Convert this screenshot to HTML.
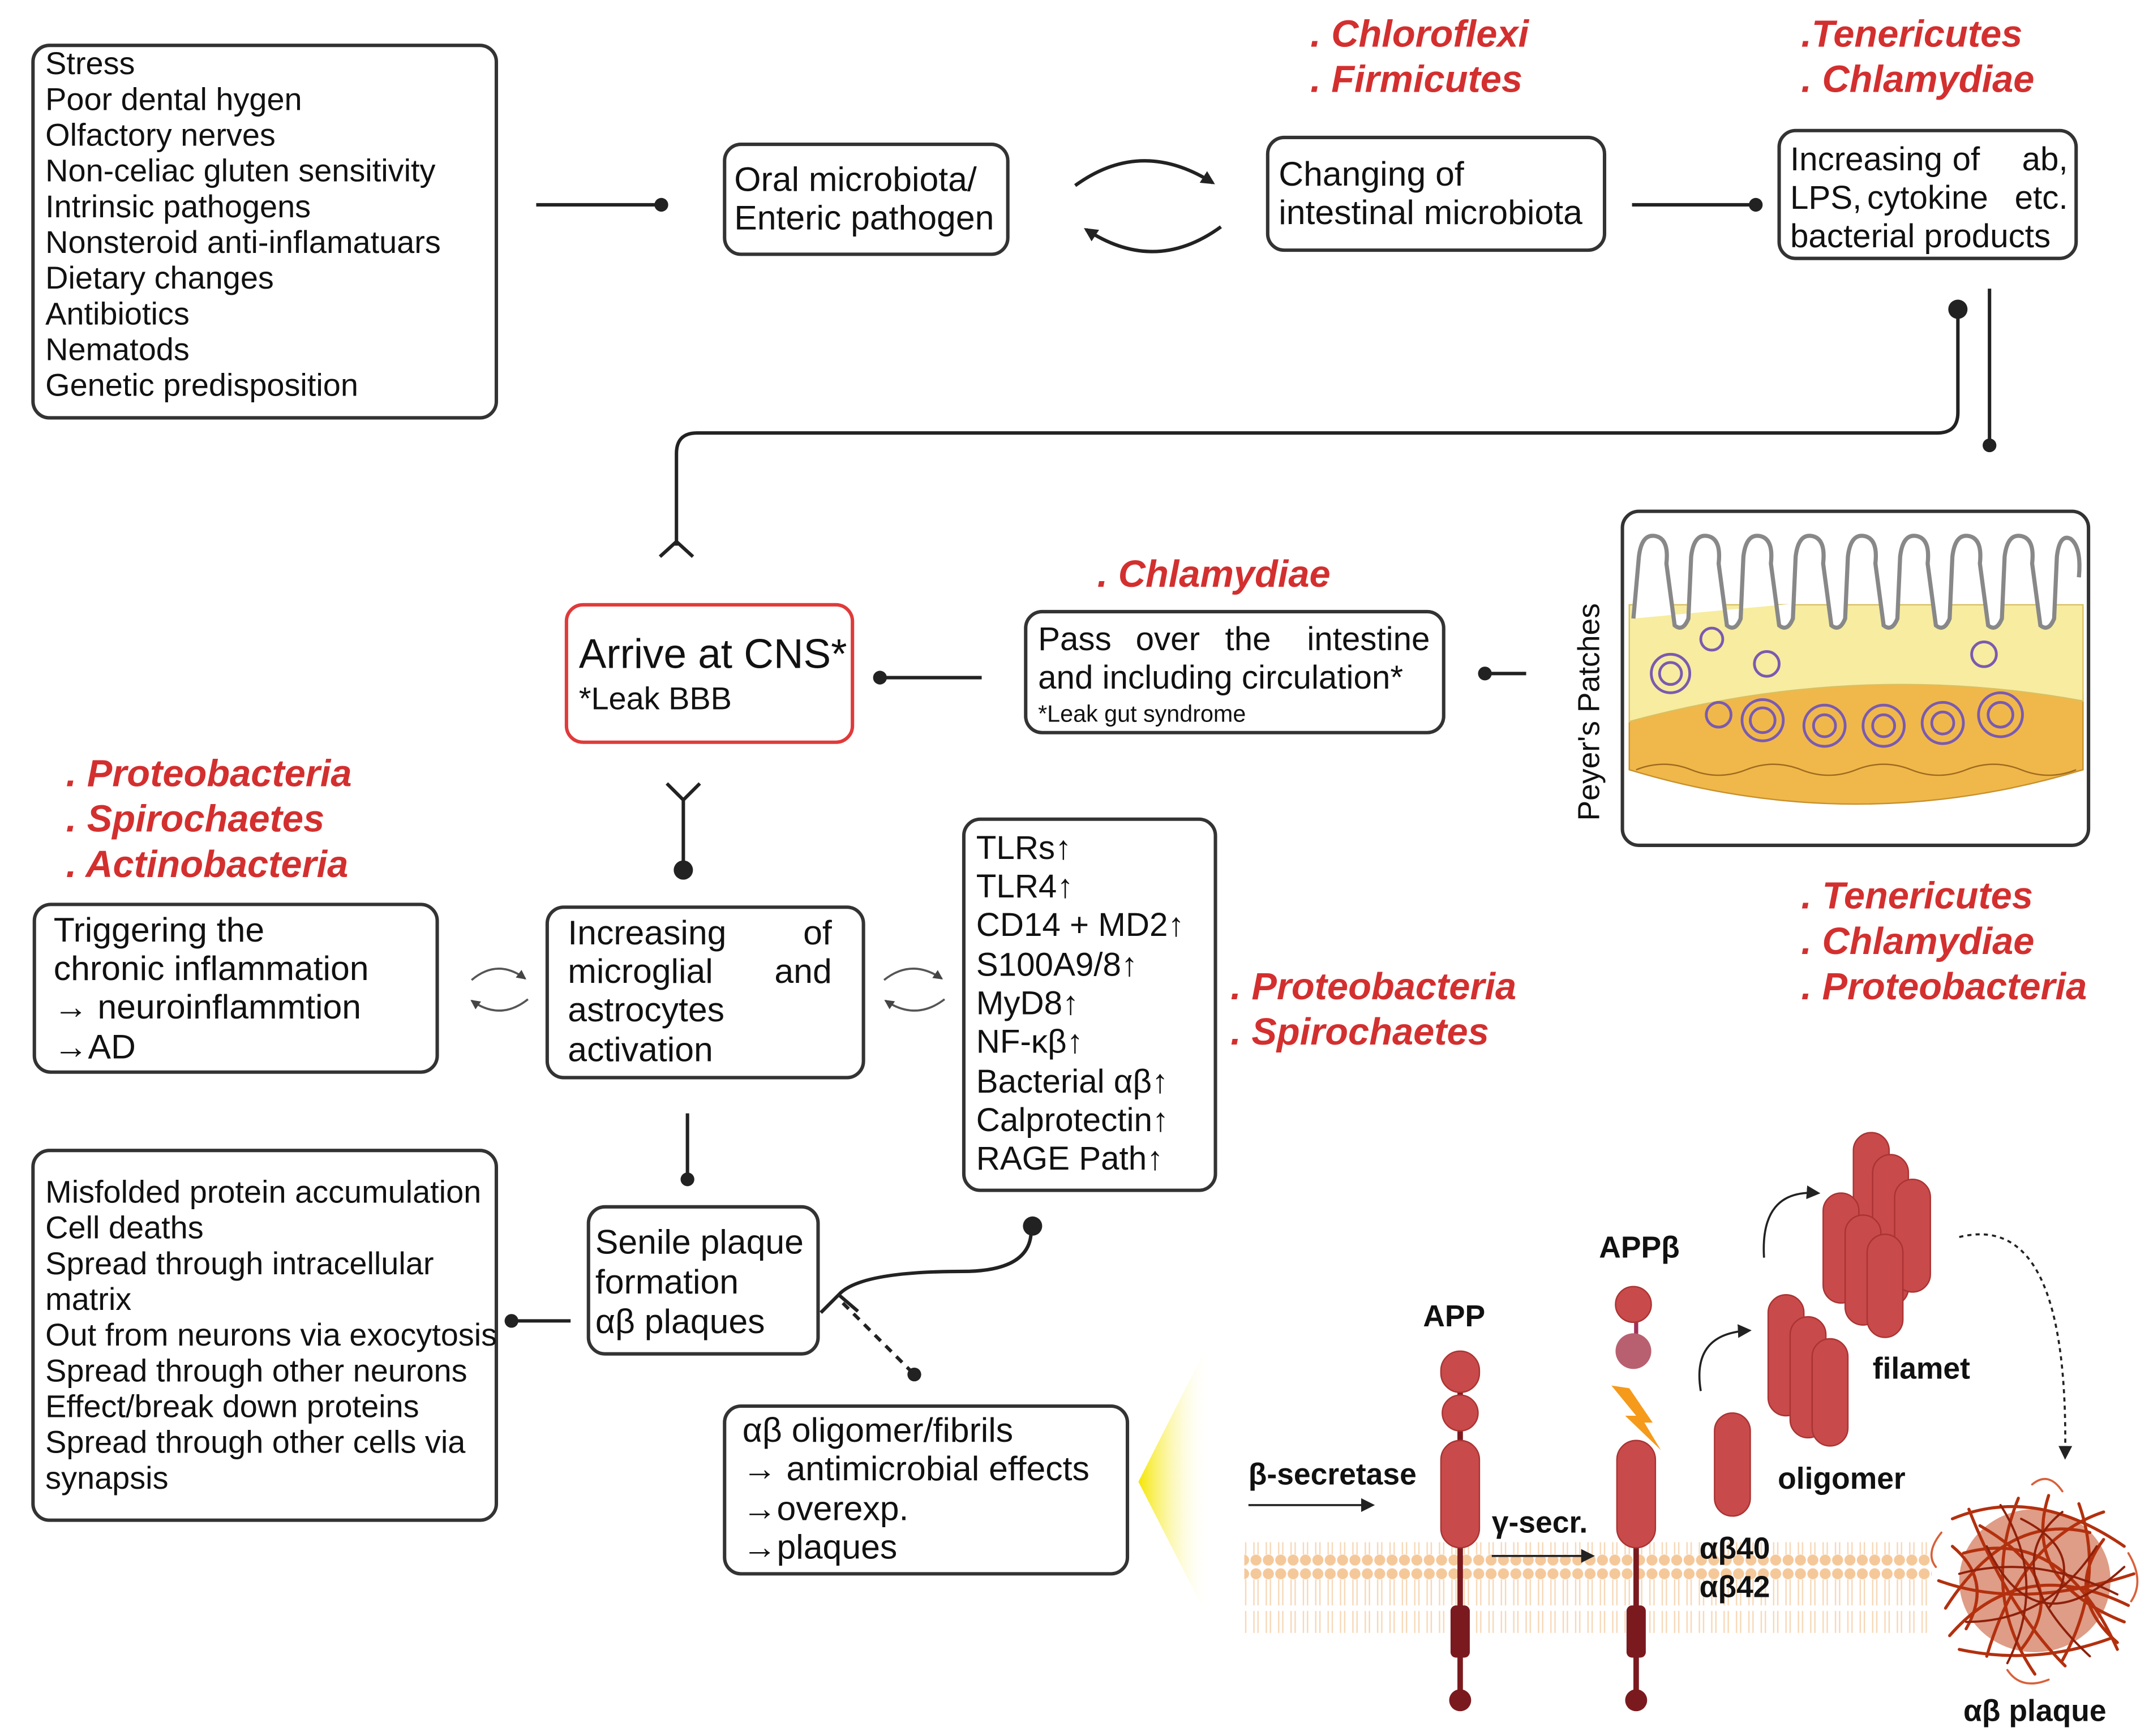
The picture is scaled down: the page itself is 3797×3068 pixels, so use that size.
<!DOCTYPE html>
<html><head><meta charset="utf-8"><style>
html,body{margin:0;padding:0;background:#fff;}
svg{display:block;}
text{font-family:"Liberation Sans",sans-serif;}
.t{font-size:23px;fill:#111;}
.m{font-size:24px;fill:#111;}
.r{font-size:27.5px;fill:#d32f2f;font-weight:bold;font-style:italic;}
.b{fill:#fff;stroke:#333;stroke-width:2.5;}
.ln{stroke:#222;stroke-width:2.5;fill:none;}
.ca{stroke:#555;stroke-width:1.5;fill:none;}
.bd{font-weight:bold;font-size:22px;fill:#111;}
.cr{fill:#c94a4a;stroke:#a33;stroke-width:1;}
</style></head><body>
<svg width="3797" height="3068" viewBox="0 0 1563 1263" preserveAspectRatio="none" xmlns="http://www.w3.org/2000/svg">
<defs>
<marker id="ah" markerWidth="10" markerHeight="10" refX="8" refY="5" orient="auto" markerUnits="userSpaceOnUse"><path d="M0,0 L10,5 L0,10 z" fill="#222"/></marker>
<marker id="as" markerWidth="7" markerHeight="7" refX="6" refY="3.5" orient="auto" markerUnits="userSpaceOnUse"><path d="M0,0 L7,3.5 L0,7 z" fill="#444"/></marker>
<linearGradient id="yg" x1="1" y1="0" x2="0" y2="0"><stop offset="0" stop-color="#fff" stop-opacity="0"/><stop offset="1" stop-color="#f5e600"/></linearGradient>
<pattern id="mem" width="9" height="60" patternUnits="userSpaceOnUse"><circle cx="4.5" cy="5" r="4" fill="#f5c89a"/><circle cx="4.5" cy="55" r="4" fill="#f5c89a"/><line x1="3" y1="9" x2="3" y2="28" stroke="#f7d8b8" stroke-width="1"/><line x1="6" y1="9" x2="6" y2="28" stroke="#f7d8b8" stroke-width="1"/><line x1="3" y1="32" x2="3" y2="51" stroke="#f7d8b8" stroke-width="1"/><line x1="6" y1="32" x2="6" y2="51" stroke="#f7d8b8" stroke-width="1"/></pattern>
</defs>
<rect width="1563" height="1263" fill="#fff"/>

<rect class="b" x="24" y="33" width="337" height="271" rx="12"/>
<text class="t" x="33" y="54">Stress</text>
<text class="t" x="33" y="80">Poor dental hygen</text>
<text class="t" x="33" y="106">Olfactory nerves</text>
<text class="t" x="33" y="132">Non-celiac gluten sensitivity</text>
<text class="t" x="33" y="158">Intrinsic pathogens</text>
<text class="t" x="33" y="184">Nonsteroid anti-inflamatuars</text>
<text class="t" x="33" y="210">Dietary changes</text>
<text class="t" x="33" y="236">Antibiotics</text>
<text class="t" x="33" y="262">Nematods</text>
<text class="t" x="33" y="288">Genetic predisposition</text>
<line class="ln" x1="390" y1="149" x2="480" y2="149"/><circle cx="481" cy="149" r="5" fill="#222"/>

<rect class="b" x="527" y="105" width="206" height="80" rx="12"/>
<text class="m" x="534" y="139" style="font-size:25px">Oral microbiota/</text>
<text class="m" x="534" y="167" style="font-size:25px">Enteric pathogen</text>
<path class="ln" d="M782,135 Q830,100 882,133" marker-end="url(#ah)"/>
<path class="ln" d="M888,165 Q840,200 790,167" marker-end="url(#ah)"/>

<text class="r" x="953" y="34">. Chloroflexi</text>
<text class="r" x="953" y="67">. Firmicutes</text>
<rect class="b" x="922" y="100" width="245" height="82" rx="12"/>
<text class="m" x="930" y="135" style="font-size:25px">Changing of</text>
<text class="m" x="930" y="163" style="font-size:25px">intestinal microbiota</text>
<line class="ln" x1="1187" y1="149" x2="1276" y2="149"/><circle cx="1277" cy="149" r="5" fill="#222"/>

<text class="r" x="1310" y="34">.Tenericutes</text>
<text class="r" x="1310" y="67">. Chlamydiae</text>
<rect class="b" x="1294" y="95" width="216" height="93" rx="12"/>
<text class="m" x="1302" y="124">Increasing</text><text class="m" x="1420" y="124">of</text><text class="m" x="1504" y="124" text-anchor="end">ab,</text>
<text class="m" x="1302" y="152">LPS,</text><text class="m" x="1358" y="152">cytokine</text><text class="m" x="1504" y="152" text-anchor="end">etc.</text>
<text class="m" x="1302" y="180">bacterial products</text>

<circle cx="1424" cy="225" r="7" fill="#222"/>
<path class="ln" d="M1424,225 L1424,300 Q1424,315 1409,315 L507,315 Q492,315 492,330 L492,397"/>
<path class="ln" d="M480,405 L492,394 L504,405"/>
<line class="ln" x1="1447" y1="210" x2="1447" y2="322"/><circle cx="1447" cy="324" r="5" fill="#222"/>

<rect class="b" x="1180" y="372" width="339" height="243" rx="12"/>
<text class="t" transform="translate(1163,518) rotate(-90)" text-anchor="middle" style="font-size:22px">Peyer's Patches</text>
<path d="M1185,505 Q1350,470 1515,505 L1515,560 Q1350,610 1185,560 Z" fill="#f0b84a" stroke="#c9902a"/>
<path d="M1185,440 L1515,440 L1515,510 Q1350,480 1185,525 Z" fill="#f7eca0" stroke="#d8c060"/>
<path d="M1188,450 L1192,405 Q1194,388 1204,390 Q1214,392 1212,410 L1218,455 Q1224,460 1228,450 L1230,405 Q1232,388 1242,390 Q1252,392 1250,410 L1256,455 Q1262,460 1266,450 L1268,405 Q1270,388 1280,390 Q1290,392 1288,410 L1294,455 Q1300,460 1304,450 L1306,405 Q1308,388 1318,390 Q1328,392 1326,410 L1332,455 Q1338,460 1342,450 L1344,405 Q1346,388 1356,390 Q1366,392 1364,410 L1370,455 Q1376,460 1380,450 L1382,405 Q1384,388 1394,390 Q1404,392 1402,410 L1408,455 Q1414,460 1418,450 L1420,405 Q1422,388 1432,390 Q1442,392 1440,410 L1446,455 Q1452,460 1456,450 L1458,405 Q1460,388 1470,390 Q1480,392 1478,410 L1484,455 Q1490,460 1494,450 L1496,405 Q1498,388 1506,392 Q1514,398 1512,420" fill="#fff" stroke="#888" stroke-width="3"/>
<g fill="none" stroke="#7a5ab0" stroke-width="2">
<circle cx="1215" cy="490" r="14"/><circle cx="1215" cy="490" r="8"/>
<circle cx="1250" cy="520" r="9"/><circle cx="1282" cy="524" r="15"/><circle cx="1282" cy="524" r="9"/>
<circle cx="1327" cy="528" r="15"/><circle cx="1327" cy="528" r="8"/><circle cx="1370" cy="528" r="15"/><circle cx="1370" cy="528" r="8"/>
<circle cx="1413" cy="526" r="15"/><circle cx="1413" cy="526" r="8"/><circle cx="1455" cy="520" r="16"/><circle cx="1455" cy="520" r="9"/>
<circle cx="1245" cy="465" r="8"/><circle cx="1285" cy="483" r="9"/><circle cx="1443" cy="476" r="9"/>
</g>
<path d="M1190,560 q20,-8 40,0 t40,0 t40,0 t40,0 t40,0 t40,0 t40,0 t40,0" fill="none" stroke="#a06a20" stroke-width="1"/>

<line class="ln" x1="1080" y1="490" x2="1110" y2="490"/><circle cx="1080" cy="490" r="5" fill="#222"/>
<text class="r" x="798" y="427">. Chlamydiae</text>
<rect class="b" x="746" y="445" width="304" height="88" rx="12"/>
<text class="m" x="755" y="473">Pass</text><text class="m" x="826" y="473">over</text><text class="m" x="891" y="473">the</text><text class="m" x="1040" y="473" text-anchor="end">intestine</text>
<text class="m" x="755" y="501">and including circulation*</text>
<text class="t" x="755" y="525" style="font-size:17px">*Leak gut syndrome</text>
<line class="ln" x1="640" y1="493" x2="714" y2="493"/><circle cx="640" cy="493" r="5" fill="#222"/>

<rect x="412" y="440" width="208" height="100" rx="12" fill="#fff" stroke="#e03a3a" stroke-width="2.5"/>
<text class="t" x="421" y="486" style="font-size:30px">Arrive at CNS*</text>
<text class="t" x="421" y="516" style="font-size:23px">*Leak BBB</text>

<path class="ln" d="M485,570 L497,582 L509,570 M497,582 L497,630"/><circle cx="497" cy="633" r="7" fill="#222"/>

<text class="r" x="48" y="572">. Proteobacteria</text>
<text class="r" x="48" y="605">. Spirochaetes</text>
<text class="r" x="48" y="638">. Actinobacteria</text>

<rect class="b" x="25" y="658" width="293" height="122" rx="12"/>
<text class="m" x="39" y="685" style="font-size:25px">Triggering the</text>
<text class="m" x="39" y="713" style="font-size:25px">chronic inflammation</text>
<text class="m" x="39" y="741" style="font-size:25px">→ neuroinflammtion</text>
<text class="m" x="39" y="770" style="font-size:25px">→AD</text>
<path class="ca" d="M343,713 Q362,697 382,712" marker-end="url(#as)"/>
<path class="ca" d="M384,727 Q364,743 343,728" marker-end="url(#as)"/>

<rect class="b" x="398" y="660" width="230" height="124" rx="12"/>
<text class="m" x="413" y="687" style="font-size:25px">Increasing</text><text class="m" x="605" y="687" text-anchor="end" style="font-size:25px">of</text>
<text class="m" x="413" y="715" style="font-size:25px">microglial</text><text class="m" x="605" y="715" text-anchor="end" style="font-size:25px">and</text>
<text class="m" x="413" y="743" style="font-size:25px">astrocytes</text>
<text class="m" x="413" y="772" style="font-size:25px">activation</text>
<path class="ca" d="M643,713 Q663,697 685,712" marker-end="url(#as)"/>
<path class="ca" d="M687,727 Q666,743 644,728" marker-end="url(#as)"/>

<rect class="b" x="701" y="596" width="183" height="270" rx="12"/>
<text class="m" x="710" y="625">TLRs↑</text>
<text class="m" x="710" y="653">TLR4↑</text>
<text class="m" x="710" y="681">CD14 + MD2↑</text>
<text class="m" x="710" y="710">S100A9/8↑</text>
<text class="m" x="710" y="738">MyD8↑</text>
<text class="m" x="710" y="766">NF-κβ↑</text>
<text class="m" x="710" y="795">Bacterial αβ↑</text>
<text class="m" x="710" y="823">Calprotectin↑</text>
<text class="m" x="710" y="851">RAGE Path↑</text>
<text class="r" x="895" y="727">. Proteobacteria</text>
<text class="r" x="895" y="760">. Spirochaetes</text>
<text class="r" x="1310" y="661">. Tenericutes</text>
<text class="r" x="1310" y="694">. Chlamydiae</text>
<text class="r" x="1310" y="727">. Proteobacteria</text>

<line class="ln" x1="500" y1="810" x2="500" y2="856"/><circle cx="500" cy="858" r="5" fill="#222"/>
<rect class="b" x="428" y="878" width="167" height="107" rx="12"/>
<text class="m" x="433" y="912" style="font-size:25px">Senile plaque</text>
<text class="m" x="433" y="941" style="font-size:25px">formation</text>
<text class="m" x="433" y="970" style="font-size:25px">αβ plaques</text>

<path class="ln" d="M597,955 L610,942 L624,954 M610,942 Q625,925 700,925 Q750,925 750,895"/><circle cx="751" cy="892" r="7" fill="#222"/>
<line class="ln" x1="613" y1="948" x2="663" y2="998" stroke-dasharray="6,5"/><circle cx="665" cy="1000" r="5" fill="#222"/>

<rect class="b" x="24" y="837" width="337" height="269" rx="12"/>
<text class="t" x="33" y="875">Misfolded protein accumulation</text>
<text class="t" x="33" y="901">Cell deaths</text>
<text class="t" x="33" y="927">Spread through intracellular</text>
<text class="t" x="33" y="953">matrix</text>
<text class="t" x="33" y="979">Out from neurons via exocytosis</text>
<text class="t" x="33" y="1005">Spread through other neurons</text>
<text class="t" x="33" y="1031">Effect/break down proteins</text>
<text class="t" x="33" y="1057">Spread through other cells via</text>
<text class="t" x="33" y="1083">synapsis</text>
<line class="ln" x1="372" y1="961" x2="415" y2="961"/><circle cx="372" cy="961" r="5" fill="#222"/>

<rect class="b" x="527" y="1023" width="293" height="122" rx="12"/>
<text class="m" x="540" y="1049" style="font-size:25px">αβ oligomer/fibrils</text>
<text class="m" x="540" y="1077" style="font-size:25px">→ antimicrobial effects</text>
<text class="m" x="540" y="1106" style="font-size:25px">→overexp.</text>
<text class="m" x="540" y="1134" style="font-size:25px">→plaques</text>
<polygon points="828,1078 880,975 880,1180" fill="url(#yg)"/>

<rect x="905" y="1122" width="500" height="66" fill="url(#mem)"/>
<line x1="1062" y1="1000" x2="1062" y2="1235" stroke="#7a1a1f" stroke-width="4"/>
<rect x="1048" y="983" width="28" height="30" rx="14" class="cr"/>
<circle cx="1062" cy="1028" r="13" class="cr"/>
<rect x="1048" y="1048" width="28" height="78" rx="14" class="cr"/>
<rect x="1055" y="1168" width="14" height="38" rx="4" fill="#7a1a1f"/>
<circle cx="1062" cy="1237" r="8" fill="#7a1a1f"/>
<text class="bd" x="1035" y="965">APP</text>
<line x1="1190" y1="950" x2="1190" y2="995" stroke="#a0305a" stroke-width="3"/>
<circle cx="1188" cy="949" r="13" class="cr"/>
<circle cx="1188" cy="983" r="13" fill="#b86070"/>
<path d="M1172,1008 L1190,1030 L1182,1030 L1208,1055 L1196,1035 L1202,1035 L1185,1010 Z" fill="#f59a1a"/>
<line x1="1190" y1="1070" x2="1190" y2="1235" stroke="#7a1a1f" stroke-width="4"/>
<rect x="1176" y="1048" width="28" height="78" rx="14" class="cr"/>
<rect x="1183" y="1168" width="14" height="38" rx="4" fill="#7a1a1f"/>
<circle cx="1190" cy="1237" r="8" fill="#7a1a1f"/>
<text class="bd" x="1163" y="915">APPβ</text>
<text class="bd" x="908" y="1080">β-secretase</text>
<line class="ln" style="stroke-width:1.5" x1="908" y1="1095" x2="998" y2="1095" marker-end="url(#ah)"/>
<text class="bd" x="1085" y="1115">γ-secr.</text>
<line class="ln" style="stroke-width:1.5" x1="1085" y1="1132" x2="1158" y2="1132" marker-end="url(#ah)"/>
<rect x="1247" y="1028" width="26" height="75" rx="13" class="cr"/>
<text class="bd" x="1236" y="1134">αβ40</text>
<text class="bd" x="1236" y="1162">αβ42</text>
<path class="ln" style="stroke-width:1.5" d="M1237,1012 Q1230,970 1272,968" marker-end="url(#ah)"/>
<rect x="1286" y="942" width="26" height="88" rx="13" class="cr"/>
<rect x="1302" y="958" width="26" height="88" rx="13" class="cr"/>
<rect x="1318" y="974" width="26" height="78" rx="13" class="cr"/>
<text class="bd" x="1293" y="1083">oligomer</text>
<path class="ln" style="stroke-width:1.5" d="M1283,915 Q1280,865 1322,868" marker-end="url(#ah)"/>
<rect x="1348" y="824" width="26" height="110" rx="13" class="cr"/>
<rect x="1362" y="840" width="26" height="110" rx="13" class="cr"/>
<rect x="1378" y="858" width="26" height="82" rx="13" class="cr"/>
<rect x="1326" y="868" width="26" height="80" rx="13" class="cr"/>
<rect x="1342" y="884" width="26" height="80" rx="13" class="cr"/>
<rect x="1358" y="898" width="26" height="75" rx="13" class="cr"/>
<text class="bd" x="1362" y="1003">filamet</text>
<path class="ln" style="stroke-width:1.5" stroke-dasharray="3,3" d="M1425,900 Q1505,880 1502,1060" marker-end="url(#ah)"/>
<g fill="none" stroke-linecap="round">
<ellipse cx="1480" cy="1150" rx="55" ry="52" fill="#c54a22" opacity="0.55"/>
<g stroke="#b3300e" stroke-width="2.2">
<path d="M1420,1105 Q1480,1080 1545,1125"/><path d="M1418,1190 Q1470,1130 1548,1168"/>
<path d="M1432,1098 Q1460,1170 1502,1212"/><path d="M1468,1090 Q1440,1160 1480,1218"/>
<path d="M1512,1094 Q1532,1150 1500,1208"/><path d="M1410,1150 Q1470,1172 1552,1145"/>
<path d="M1425,1200 Q1480,1212 1535,1192"/><path d="M1428,1130 Q1500,1110 1540,1200"/>
<path d="M1445,1205 Q1470,1120 1530,1100"/><path d="M1415,1170 Q1460,1100 1520,1115"/>
<path d="M1440,1110 Q1510,1150 1470,1200"/><path d="M1490,1088 Q1470,1150 1545,1180"/>
<path d="M1420,1125 Q1450,1150 1430,1185"/><path d="M1530,1120 Q1500,1160 1540,1195"/>
</g>
<g stroke="#8f200a" stroke-width="1.6">
<path d="M1425,1145 Q1480,1130 1540,1160"/><path d="M1455,1095 Q1490,1150 1460,1210"/>
<path d="M1500,1100 Q1450,1140 1520,1205"/><path d="M1430,1180 Q1490,1180 1525,1125"/>
<path d="M1445,1125 Q1480,1200 1545,1140"/><path d="M1470,1105 Q1520,1130 1490,1170"/>
</g>
<g stroke="#d9603a" stroke-width="1.5">
<path d="M1412,1115 Q1400,1130 1408,1140"/><path d="M1548,1130 Q1560,1150 1550,1165"/>
<path d="M1478,1080 Q1490,1070 1500,1085"/><path d="M1460,1215 Q1470,1230 1490,1222"/>
</g>
</g>
<text class="bd" x="1428" y="1252">αβ plaque</text>
</svg>
</body></html>
